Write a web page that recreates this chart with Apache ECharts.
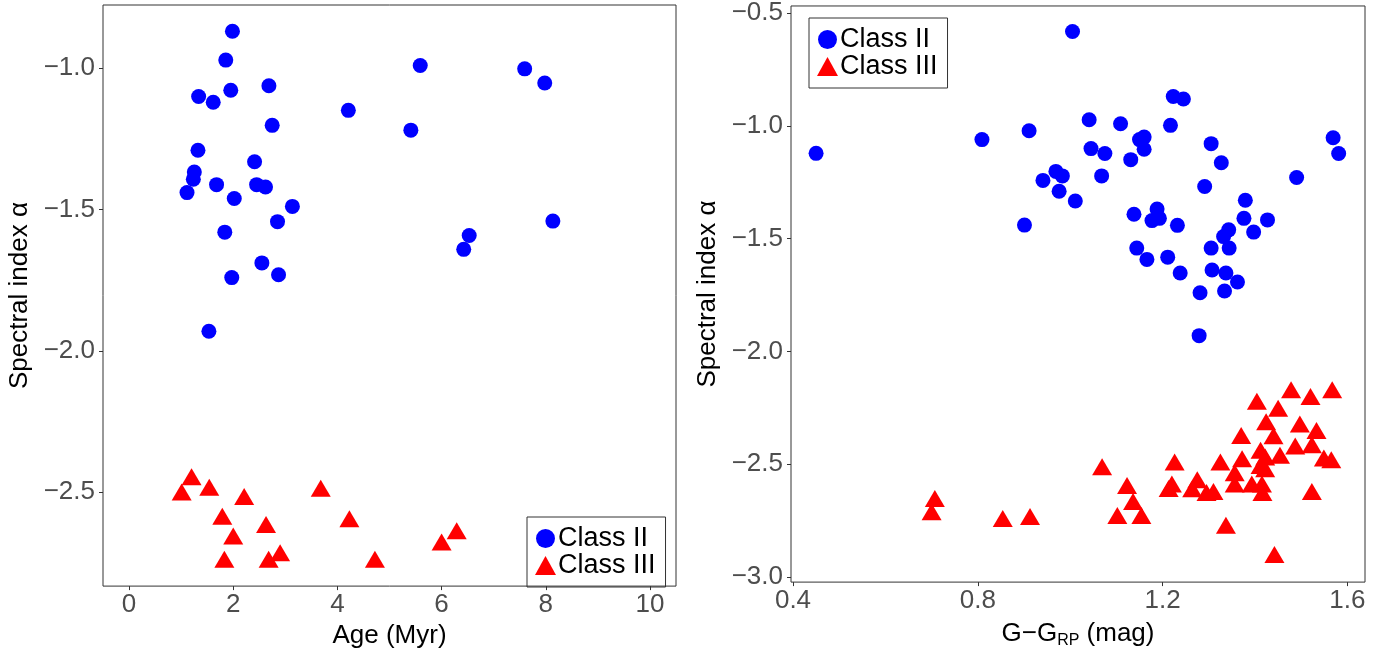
<!DOCTYPE html>
<html>
<head>
<meta charset="utf-8">
<script src="https://cdn.jsdelivr.net/npm/echarts@6/dist/echarts.min.js"></script>
<style>
  html, body { margin: 0; padding: 0; background: #fff; }
  #chart { width: 1389px; height: 654px; }
</style>
</head>
<body>
<div id="chart"></div>
<script>
// left panel: spectral index vs age
var ageClassII = [1.985, 1.857, 2.685, 1.953, 1.336, 1.616, 4.21, 2.748, 1.323, 2.41, 1.253, 1.234, 1.68, 2.449, 2.62, 1.113,
  2.02, 3.136, 2.85, 1.838, 2.55, 1.972, 2.87, 1.533, 5.59, 7.595, 7.98, 5.41, 8.136, 6.53, 6.425];
var alphaAgeClassII = [-0.869, -0.971, -1.062, -1.078, -1.10, -1.12, -1.149, -1.202, -1.29, -1.331, -1.367, -1.393, -1.412, -1.412, -1.42, -1.44,
  -1.461, -1.489, -1.543, -1.58, -1.689, -1.741, -1.731, -1.931, -0.99, -1.002, -1.052, -1.219, -1.541, -1.592, -1.641];
var ageClassIII = [1.01, 1.20, 1.54, 2.21, 1.79, 2.63, 2.00, 1.83, 2.68, 2.90, 3.68, 4.23, 4.72, 6.00, 6.29];
var alphaAgeClassIII = [-2.50, -2.446, -2.483, -2.516, -2.586, -2.615, -2.656, -2.738, -2.738, -2.715, -2.487, -2.595, -2.738, -2.677, -2.637];

// right panel: spectral index vs G-G_RP colour
var colorClassII = [1.005, 0.45, 0.809, 0.911, 0.969, 0.983, 0.941, 0.976, 1.011, 0.901, 1.223, 1.245, 1.041, 1.109, 1.217, 1.15, 1.16,
  1.16, 1.045, 1.075, 1.131, 1.305, 1.327, 1.068, 1.291, 1.49, 1.138, 1.188, 1.177, 1.193, 1.232, 1.379, 1.376, 1.427,
  1.397, 1.343, 1.332, 1.305, 1.344, 1.144, 1.166, 1.211, 1.238, 1.307, 1.337, 1.362, 1.334, 1.281, 1.279, 1.569, 1.581];
var alphaColorClassII = [-0.582, -1.122, -1.061, -1.022, -1.202, -1.222, -1.242, -1.29, -1.333, -1.44, -0.870, -0.881, -0.973, -0.991, -0.998, -1.061, -1.05,
  -1.104, -1.101, -1.123, -1.15, -1.079, -1.164, -1.222, -1.269, -1.229, -1.392, -1.369, -1.42, -1.41, -1.441, -1.33, -1.41, -1.417,
  -1.471, -1.461, -1.491, -1.542, -1.542, -1.542, -1.592, -1.582, -1.652, -1.639, -1.652, -1.692, -1.732, -1.74, -1.93, -1.053, -1.123];
var colorClassIII = [0.707, 0.700, 0.854, 0.913, 1.069, 1.123, 1.136, 1.102, 1.154, 1.478, 1.52, 1.567, 1.404, 1.45, 1.424, 1.497,
  1.533, 1.44, 1.37, 1.487, 1.523, 1.412, 1.454, 1.549, 1.565, 1.372, 1.422, 1.412, 1.325, 1.226, 1.356, 1.422, 1.22,
  1.213, 1.275, 1.264, 1.295, 1.31, 1.356, 1.393, 1.415, 1.416, 1.523, 1.337, 1.442];
var alphaColorClassIII = [-2.652, -2.71, -2.74, -2.731, -2.511, -2.594, -2.665, -2.727, -2.727, -2.17, -2.199, -2.17, -2.221, -2.252, -2.311, -2.321,
  -2.35, -2.374, -2.372, -2.419, -2.413, -2.438, -2.46, -2.472, -2.48, -2.475, -2.468, -2.505, -2.49, -2.49, -2.537, -2.52, -2.587,
  -2.607, -2.568, -2.608, -2.625, -2.621, -2.587, -2.587, -2.587, -2.625, -2.62, -2.77, -2.90];

var ageTicks = [0, 2, 4, 6, 8, 10];
var alphaTicksLeft = [-2.5, -2.0, -1.5, -1.0];
var colorTicks = [0.4, 0.8, 1.2, 1.6];
var alphaTicksRight = [-3.0, -2.5, -2.0, -1.5, -1.0, -0.5];

function pairs(xs, ys) {
  return xs.map(function (x, i) { return [x, ys[i]]; });
}
function minusFmt(digits) {
  return function (v) {
    var s = Math.abs(v).toFixed(digits);
    return v < 0 ? '\u2212' + s : s;
  };
}

var FONT = 'Liberation Sans, Arial, sans-serif';
var tickLabel = { color: '#4d4d4d', fontSize: 26, fontFamily: FONT };
var titleText = { color: '#000', fontSize: 26, fontFamily: FONT };

function xAxisOf(grid, min, max, ticks, fmt, name) {
  return {
    type: 'value', gridIndex: grid, min: min, max: max,
    splitLine: { show: false },
    axisLine: { show: false, onZero: false },
    axisTick: { show: true, length: 4, lineStyle: { color: '#333' }, customValues: ticks },
    axisLabel: Object.assign({ margin: 6, customValues: ticks, formatter: fmt }, tickLabel),
    name: name, nameLocation: 'middle', nameGap: 30,
    nameTextStyle: Object.assign({
      rich: { sub: { fontSize: 16, fontFamily: FONT, color: '#000', lineHeight: 16, padding: [14, 0, 0, 0] } }
    }, titleText)
  };
}
function yAxisOf(grid, min, max, ticks) {
  return {
    type: 'value', gridIndex: grid, min: min, max: max,
    splitLine: { show: false },
    axisLine: { show: false, onZero: false },
    axisTick: { show: true, length: 4, lineStyle: { color: '#333' }, customValues: ticks },
    axisLabel: Object.assign({ margin: 8, customValues: ticks, formatter: minusFmt(1) }, tickLabel),
    name: 'Spectral index \u03b1', nameLocation: 'middle', nameGap: 70,
    nameTextStyle: titleText
  };
}

var legendBase = {
  orient: 'vertical', itemGap: 0, itemWidth: 21, itemHeight: 19,
  borderColor: '#333', borderWidth: 1, padding: [8, 10, 8, 8],
  textStyle: { color: '#000', fontSize: 27, fontFamily: FONT, padding: [0, 0, 0, -3] },
  selectedMode: false,
  data: [{ name: 'Class II', icon: 'circle' }, { name: 'Class III', icon: 'triangle' }]
};

var chart = echarts.init(document.getElementById('chart'), null, { renderer: 'canvas' });
chart.setOption({
  backgroundColor: '#fff',
  animation: false,
  grid: [
    { left: 103, top: 5, width: 573, height: 586, show: true, borderColor: '#333', borderWidth: 1, backgroundColor: '#fff' },
    { left: 791, top: 5, width: 574, height: 579, show: true, borderColor: '#333', borderWidth: 1, backgroundColor: '#fff' }
  ],
  xAxis: [
    xAxisOf(0, -0.5, 10.5, ageTicks, function (v) { return String(v); }, 'Age (Myr)'),
    xAxisOf(1, 0.3957, 1.638, colorTicks, minusFmt(1), 'G\u2212G{sub|RP} (mag)')
  ],
  yAxis: [
    yAxisOf(0, -2.833, -0.776, alphaTicksLeft),
    yAxisOf(1, -3.022, -0.469, alphaTicksRight)
  ],
  legend: [
    Object.assign({ left: 527, top: 517 }, legendBase),
    Object.assign({ left: 809, top: 18 }, legendBase)
  ],
  series: [
    { name: 'Class II', type: 'scatter', xAxisIndex: 0, yAxisIndex: 0, symbol: 'circle', symbolSize: 15,
      itemStyle: { color: '#0000ff', opacity: 1 }, data: pairs(ageClassII, alphaAgeClassII) },
    { name: 'Class III', type: 'scatter', xAxisIndex: 0, yAxisIndex: 0, symbol: 'triangle', symbolSize: [20, 17],
      itemStyle: { color: '#ff0000', opacity: 1 }, data: pairs(ageClassIII, alphaAgeClassIII) },
    { name: 'Class II', type: 'scatter', xAxisIndex: 1, yAxisIndex: 1, symbol: 'circle', symbolSize: 15,
      itemStyle: { color: '#0000ff', opacity: 1 }, data: pairs(colorClassII, alphaColorClassII) },
    { name: 'Class III', type: 'scatter', xAxisIndex: 1, yAxisIndex: 1, symbol: 'triangle', symbolSize: [20, 17],
      itemStyle: { color: '#ff0000', opacity: 1 }, data: pairs(colorClassIII, alphaColorClassIII) }
  ]
});
</script>
</body>
</html>
